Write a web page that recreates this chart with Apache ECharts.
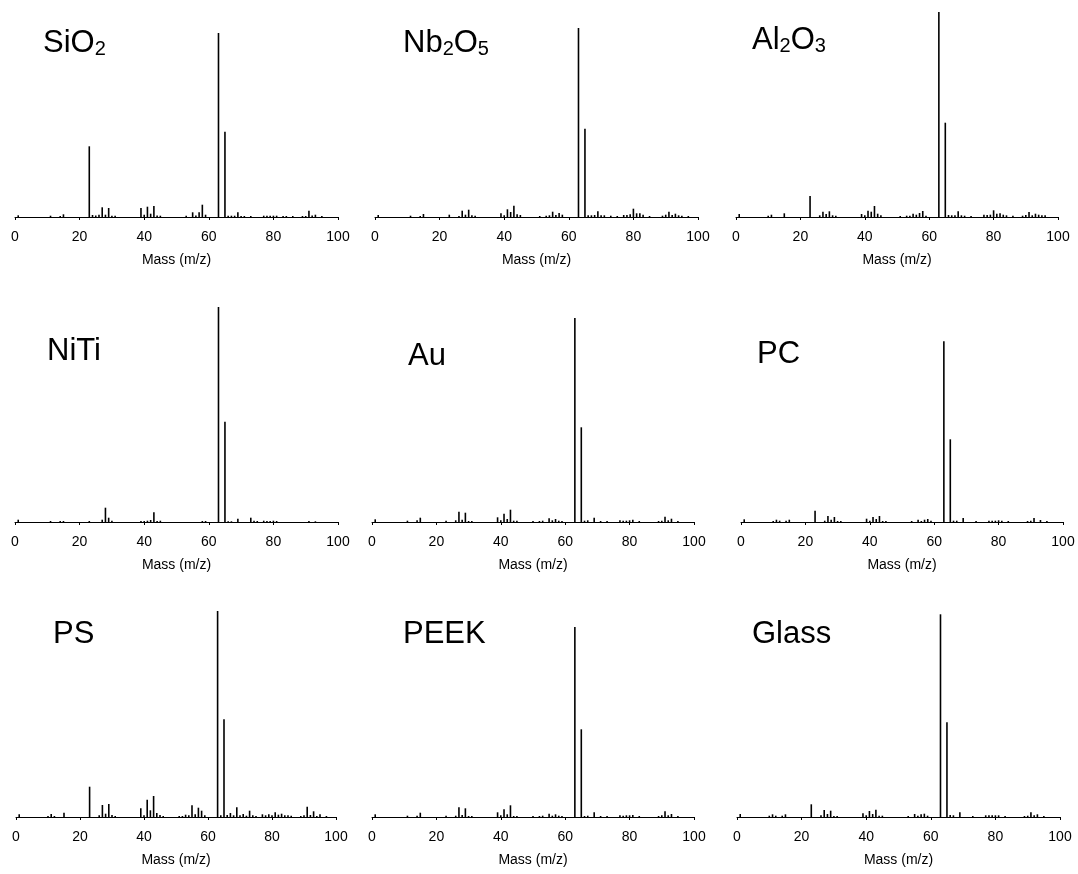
<!DOCTYPE html>
<html><head><meta charset="utf-8">
<script src="https://cdn.jsdelivr.net/npm/echarts@6/dist/echarts.min.js"></script>
<style>html,body{margin:0;padding:0;background:#fff}#c{width:1078px;height:874px}</style>
</head><body><div id="c"></div>
<script>
// ---- data: [mass (m/z), relative intensity (a.u., full scale 216)] ----
const xTicks = [0, 20, 40, 60, 80, 100];
const sio2 = [[1,1.7],[11,1.3],[14,1],[15,2.7],[23,70.7],[24,2],[25,1.5],[26,2.3],[27,9.7],[28,2.3],[29,9],[30,1.3],[31,1.3],[39,9],[40,2.3],[41,10.3],[42,3.3],[43,11],[44,1.5],[45,1.3],[53,1.3],[55,4.7],[56,1.5],[57,4.7],[58,12.3],[59,2.3],[63,184],[65,85.3],[66,1.3],[67,1.3],[68,1.3],[69,4.7],[70,1],[71,1],[73,1],[77,1.3],[78,1.3],[79,1.3],[80,1.3],[81,1.3],[83,1],[84,1],[86,1],[89,1],[90,1],[91,6.3],[92,1.5],[93,2.3],[95,1]];
const nb2o5 = [[1,2],[11,1.3],[14,1],[15,3],[23,2.3],[26,1],[27,6.3],[28,2.3],[29,7.3],[30,1.7],[31,1.3],[39,3.7],[40,1.7],[41,7.7],[42,5],[43,11.3],[44,2.7],[45,2],[51,1],[53,1.3],[54,1.7],[55,5.3],[56,2],[57,4],[58,2.3],[63,189],[65,88.3],[66,1.7],[67,1.7],[68,2],[69,5.7],[70,1.7],[71,1.7],[73,1.3],[75,1],[77,2],[78,2],[79,2.7],[80,8.3],[81,3.7],[82,3.7],[83,2.3],[85,1],[89,1.3],[90,2.3],[91,5.3],[92,2],[93,3.3],[94,1.7],[95,1.3],[97,1]];
const al2o3 = [[1,3],[10,1.3],[11,2.3],[15,3.7],[23,21],[26,1.7],[27,5.3],[28,3],[29,5.7],[30,1.7],[31,1.3],[39,3],[40,1.7],[41,6.3],[42,5.3],[43,11],[44,3.3],[45,1.7],[51,1],[53,1.3],[54,1.3],[55,3.3],[56,2.3],[57,4],[58,6],[59,1.3],[63,205],[65,94.3],[66,2],[67,1.7],[68,1.7],[69,5.7],[70,1.7],[71,1.3],[73,1],[77,2.3],[78,2],[79,2.3],[80,6.7],[81,3.3],[82,3.7],[83,2.3],[84,1.7],[86,1.3],[89,1.3],[90,2],[91,5],[92,1.7],[93,3.3],[94,2.3],[95,1.7],[96,1.7]];
const niti = [[1,2.3],[11,1],[14,1],[15,1],[23,1],[27,2.3],[28,14.3],[29,4.3],[30,1.3],[39,1],[40,1],[41,1.3],[42,2],[43,9.7],[44,1],[45,1.3],[58,1],[59,1],[63,215],[65,100.3],[66,0.7],[67,0.7],[69,3.3],[73,4.3],[74,1.3],[75,1],[77,1.3],[78,1],[79,1],[80,1.3],[81,1],[91,1],[93,0.7]];
const au = [[1,2.7],[11,1.3],[14,1.7],[15,4.3],[23,1.3],[26,1.7],[27,10.3],[28,2.3],[29,9.3],[30,1],[31,1],[39,4.7],[40,1.7],[41,8.3],[42,3],[43,12.3],[44,1.3],[45,1.3],[50,1],[52,1],[53,1.3],[55,3.7],[56,1.7],[57,3],[58,1.3],[59,1],[63,204],[65,94.7],[66,1.3],[67,1.7],[69,4.3],[71,1],[73,1],[77,1.7],[78,1.3],[79,1.3],[80,1.7],[81,2.3],[83,1],[89,1],[90,1.3],[91,5.3],[92,1.7],[93,3.3],[95,1]];
const pc = [[1,2.7],[10,1],[11,2.3],[12,1.3],[14,1.3],[15,2.3],[23,11.3],[26,1.3],[27,6],[28,2.3],[29,5],[30,1],[31,1],[39,3.3],[40,1.3],[41,5],[42,3],[43,6],[44,1],[45,1],[53,1],[55,2.3],[56,1],[57,2.3],[58,3],[59,1.3],[63,180.7],[65,82.7],[66,1.3],[67,1.3],[69,4],[73,1],[77,1.3],[78,1.3],[79,1.3],[80,1.7],[81,1.3],[83,1],[89,1],[90,1.3],[91,4],[93,2],[95,1]];
const ps = [[1,2.7],[10,1],[11,3],[12,1],[15,4.3],[23,30.3],[26,1.7],[27,12],[28,3.3],[29,13],[30,2],[31,1],[39,8.7],[40,1.7],[41,17.3],[42,6.7],[43,21],[44,4],[45,2],[46,1],[51,1],[52,1],[53,2.3],[54,1.7],[55,11.7],[56,2.7],[57,9.3],[58,6.3],[59,1.7],[63,206],[64,1.7],[65,97.7],[66,2],[67,4],[68,1.7],[69,9.7],[70,1.7],[71,3],[72,1.3],[73,6.3],[74,1.7],[75,1],[77,2.7],[78,1.7],[79,2.7],[80,1.7],[81,4.7],[82,2.3],[83,3.3],[84,1.7],[85,1.7],[86,1.3],[89,1],[90,1.7],[91,10.3],[92,2],[93,5.7],[94,1],[95,2.7],[97,1]];
const peek = [[1,2.7],[11,1.3],[14,1.3],[15,4.3],[23,1.3],[26,1.3],[27,9.7],[28,2],[29,8.7],[30,1],[31,1],[39,4.7],[40,1.7],[41,7.7],[42,2.7],[43,11.7],[44,1],[45,1],[50,1],[52,1],[53,1.3],[55,3.3],[56,1.3],[57,2.7],[58,1.3],[59,1],[63,190],[65,87.7],[66,1],[67,1.3],[69,4.7],[71,1],[73,1],[77,1.7],[78,1.3],[79,1.7],[80,1.7],[81,2],[83,1],[89,1],[90,1.7],[91,5.7],[92,1.7],[93,3],[95,1]];
const glass = [[1,3],[10,1.3],[11,2.7],[12,1.3],[14,1.3],[15,2.7],[23,12.7],[26,1.7],[27,7],[28,3],[29,6.3],[30,1],[31,1],[39,3.7],[40,1.7],[41,6],[42,3],[43,7.3],[44,1.3],[45,1.3],[53,1],[55,3],[56,1.3],[57,2.7],[58,3.3],[59,1.3],[63,202.7],[65,94.7],[66,2],[67,1.7],[69,4.7],[73,1],[77,1.7],[78,1.7],[79,1.7],[80,1.7],[81,1.7],[83,1],[89,1],[90,1.3],[91,4.7],[92,1.7],[93,2.7],[95,1]];

const samples = [sio2, nb2o5, al2o3, niti, au, pc, ps, peek, glass];
const titleTexts = ['{n|SiO}{s|2}', '{n|Nb}{s|2}{n|O}{s|5}', '{n|Al}{s|2}{n|O}{s|3}', '{n|NiTi}', '{n|Au}', '{n|PC}', '{n|PS}', '{n|PEEK}', '{n|Glass}'];
const axisTitle = 'Mass (m/z)';

// ---- layout (pixels) ----
const FULL = 216;
const layout = [
  {x0: 15, x1: 338, ax: 217, tx: 43, ty: 43},
  {x0: 375, x1: 698, ax: 217, tx: 403, ty: 43},
  {x0: 736, x1: 1058, ax: 217, tx: 752, ty: 40},
  {x0: 15, x1: 338, ax: 522, tx: 47, ty: 351},
  {x0: 372, x1: 694, ax: 522, tx: 408, ty: 356},
  {x0: 741, x1: 1063, ax: 522, tx: 757, ty: 354},
  {x0: 16, x1: 336, ax: 817, tx: 53, ty: 634},
  {x0: 372, x1: 694, ax: 817, tx: 403, ty: 634},
  {x0: 737, x1: 1060, ax: 817, tx: 752, ty: 634}
];
const FONT = 'Liberation Sans, Arial, Helvetica, sans-serif';

const chart = echarts.init(document.getElementById('c'), null, {renderer: 'canvas'});
const grid = [], xAxis = [], yAxis = [], series = [], title = [];
layout.forEach((L, i) => {
  grid.push({left: L.x0, width: L.x1 - L.x0, top: L.ax - FULL, height: FULL, containLabel: false});
  xAxis.push({
    type: 'value', gridIndex: i, min: xTicks[0], max: xTicks[xTicks.length - 1], interval: 20,
    splitLine: {show: false},
    axisLine: {show: true, lineStyle: {color: '#000', width: 1}},
    axisTick: {show: true, length: 3, lineStyle: {color: '#000'}},
    axisLabel: {color: '#000', fontSize: 14, fontFamily: FONT, margin: 13},
    name: axisTitle, nameLocation: 'middle', nameGap: 36,
    nameTextStyle: {color: '#000', fontSize: 14, fontFamily: FONT}
  });
  yAxis.push({type: 'value', gridIndex: i, min: 0, max: FULL, show: false, splitLine: {show: false}});
  series.push({
    type: 'bar', xAxisIndex: i, yAxisIndex: i, data: samples[i], barWidth: 1.6,
    itemStyle: {color: '#000'}, silent: true, animation: false
  });
  title.push({
    text: titleTexts[i], left: L.tx, top: L.ty - 18, padding: 0,
    textStyle: {
      fontWeight: 'normal',
      rich: {
        n: {fontSize: 31, fontFamily: FONT, fontWeight: 'normal', color: '#000', lineHeight: 36},
        s: {fontSize: 20, fontFamily: FONT, fontWeight: 'normal', color: '#000', padding: [12, 0, 0, 0]}
      }
    }
  });
});
chart.setOption({animation: false, backgroundColor: '#fff', title, grid, xAxis, yAxis, series});
</script></body></html>
